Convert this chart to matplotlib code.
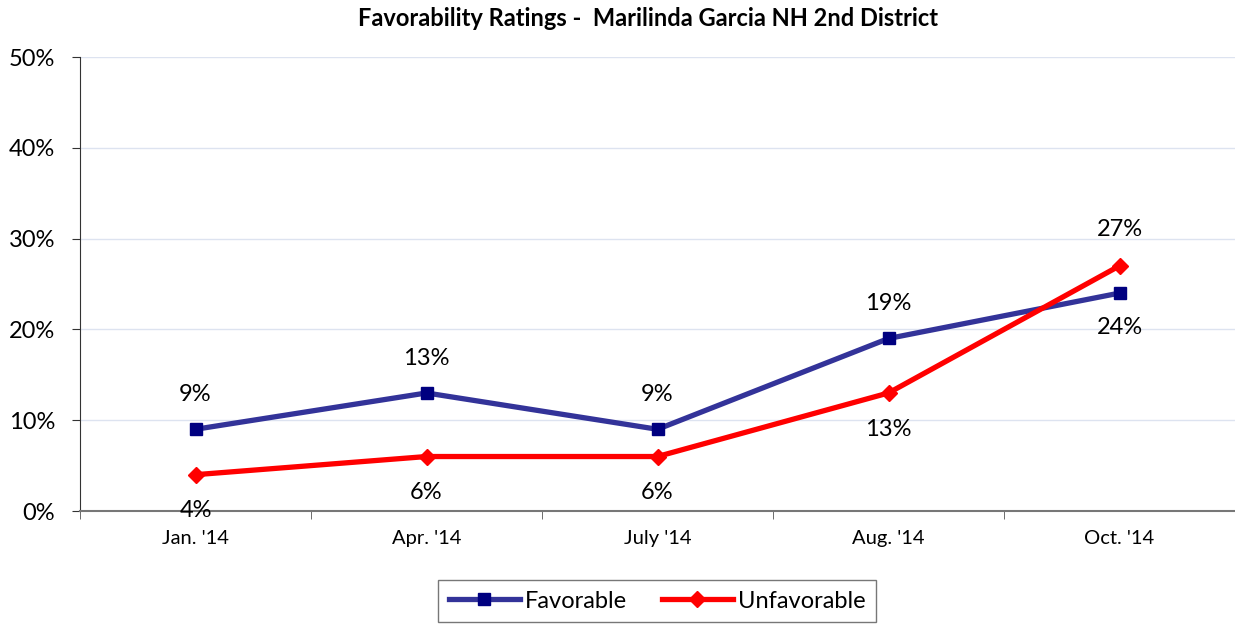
import numpy as np
import matplotlib.pyplot as plt

plt.rcParams['font.family'] = ['Lato', 'DejaVu Sans']

months = ["Jan. '14", "Apr. '14", "July '14", "Aug. '14", "Oct. '14"]
favorable = [9, 13, 9, 19, 24]
unfavorable = [4, 6, 6, 13, 27]
# label placement: +1 above the point, -1 below
fav_side = [1, 1, 1, 1, -1]
unfav_side = [-1, -1, -1, -1, 1]

x = np.arange(len(months))

fig = plt.figure(figsize=(12.35, 6.25), dpi=100)
ax = fig.add_axes([80/1235, 1-511/625, 1-80/1235, 454/625])

ax.set_ylim(0, 50)
ax.set_xlim(-0.5, len(months) - 0.5)
ax.set_yticks([0, 10, 20, 30, 40, 50])
ax.set_yticklabels(['0%', '10%', '20%', '30%', '40%', '50%'], fontsize=17)
ax.grid(axis='y', color='#dde3f0', linewidth=1)
ax.set_axisbelow(True)

ax.plot(x, favorable, color='#333399', linewidth=3.8, marker='s', markersize=8.5,
        markerfacecolor='#000080', markeredgecolor='#000080', label='Favorable', zorder=3)
ax.plot(x, unfavorable, color='#ff0000', linewidth=3.8, marker='D', markersize=8,
        markerfacecolor='#ff0000', markeredgecolor='#ff0000', label='Unfavorable', zorder=4)

for xi, v, s in zip(x, favorable, fav_side):
    ax.annotate(f'{v}%', (xi, v), xytext=(0, 25 * s), textcoords='offset points',
                ha='center', va='center', fontsize=17)
for xi, v, s in zip(x, unfavorable, unfav_side):
    ax.annotate(f'{v}%', (xi, v), xytext=(0, 26 * s), textcoords='offset points',
                ha='center', va='center', fontsize=17)

# category axis: labels centered, ticks between categories
ax.set_xticks(x)
ax.set_xticklabels(months, fontsize=14.5)
ax.set_xticks(np.arange(-0.5, len(months)), minor=True)
ax.tick_params(axis='x', which='major', length=0, pad=14)
ax.tick_params(axis='x', which='minor', length=6, color='#555555', direction='out')
ax.tick_params(axis='y', length=6, color='#333333', direction='out', pad=12)

ax.spines['top'].set_visible(False)
ax.spines['right'].set_visible(False)
ax.spines['left'].set_color('#333333')
ax.spines['bottom'].set_color('#777777')
ax.spines['bottom'].set_linewidth(1.5)

fig.text(648/1235, 1 - 19/625, 'Favorability Ratings -  Marilinda Garcia NH 2nd District',
         ha='center', va='center', fontsize=17, fontweight='bold')

leg = fig.legend(loc='center', bbox_to_anchor=(657/1235, 1 - 601/625), ncol=2,
                 fontsize=17, frameon=True, fancybox=False, edgecolor='#555555',
                 handlelength=3, columnspacing=1.5, handletextpad=0.2,
                 borderpad=0.45)
leg.get_frame().set_linewidth(1)

fig.savefig('out.png', dpi=100)
